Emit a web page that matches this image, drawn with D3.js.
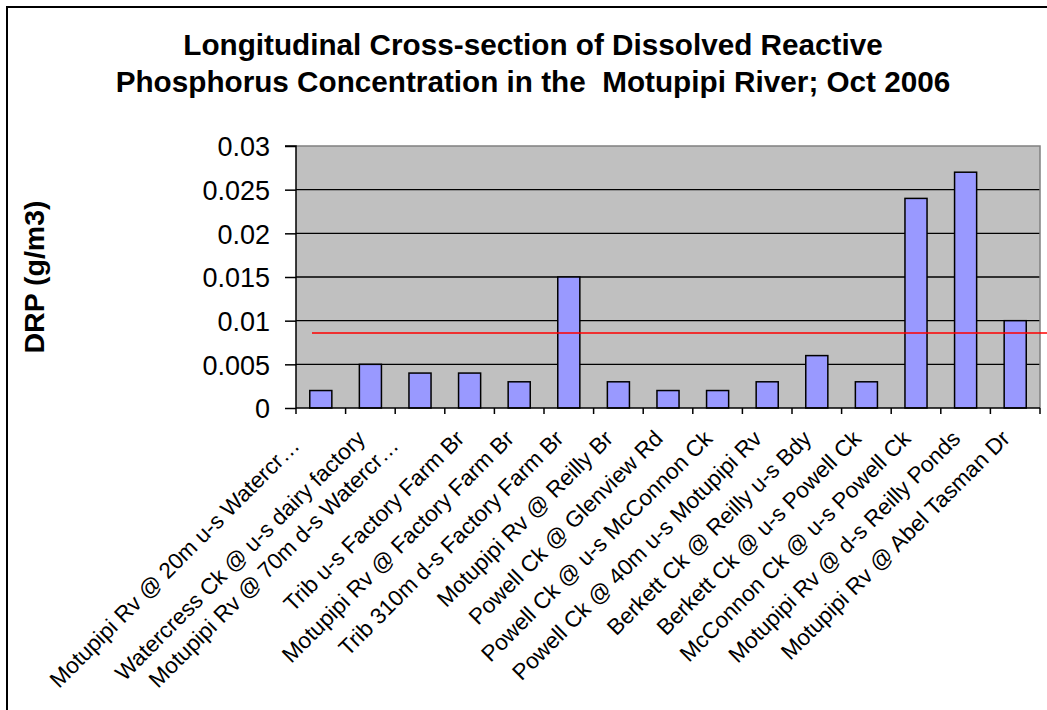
<!DOCTYPE html>
<html>
<head>
<meta charset="utf-8">
<script src="https://cdn.jsdelivr.net/npm/d3@7"></script>
<style>
  html, body { margin: 0; padding: 0; background: #fff; }
  svg { display: block; }
  text { font-family: Arial, "Liberation Sans", sans-serif; fill: #000; }
</style>
</head>
<body>
<svg id="chart" width="1047" height="710"></svg>
<script>
// Sampling sites along the Motupipi River, upstream to downstream
const categories = [
  "Motupipi Rv @ 20m u-s Watercr\u2026",
  "Watercress Ck @ u-s dairy factory",
  "Motupipi Rv @ 70m d-s Watercr\u2026",
  "Trib u-s Factory Farm Br",
  "Motupipi Rv @ Factory Farm Br",
  "Trib 310m d-s Factory Farm Br",
  "Motupipi Rv @ Reilly Br",
  "Powell Ck @ Glenview Rd",
  "Powell Ck @ u-s McConnon Ck",
  "Powell Ck @ 40m u-s Motupipi Rv",
  "Berkett Ck @ Reilly u-s Bdy",
  "Berkett Ck @ u-s Powell Ck",
  "McConnon Ck @ u-s Powell Ck",
  "Motupipi Rv @ d-s Reilly Ponds",
  "Motupipi Rv @ Abel Tasman Dr"
];

// Dissolved reactive phosphorus, g/m3
const drpValues = [0.002, 0.005, 0.004, 0.004, 0.003, 0.015, 0.003, 0.002, 0.002, 0.003, 0.006, 0.003, 0.024, 0.027, 0.010];

// Guideline level drawn as a red reference line
const guidelineValue = 0.0086;

const yTicks = [0, 0.005, 0.01, 0.015, 0.02, 0.025, 0.03];
const yTickLabels = ["0", "0.005", "0.01", "0.015", "0.02", "0.025", "0.03"];

const titleLines = [
  "Longitudinal Cross-section of Dissolved Reactive",
  "Phosphorus Concentration in the  Motupipi River; Oct 2006"
];
const yAxisTitle = "DRP (g/m3)";

// Layout
const W = 1047, H = 710;
const plot = { left: 296, right: 1040, top: 146, bottom: 408 };

const svg = d3.select("#chart");

// Outer chart frame (runs past the right and bottom edges)
svg.append("rect")
  .attr("x", 7).attr("y", 7)
  .attr("width", W + 50).attr("height", H + 50)
  .attr("fill", "#fff")
  .attr("stroke", "#000")
  .attr("stroke-width", 2);

const x = d3.scaleBand()
  .domain(categories)
  .range([plot.left, plot.right])
  .padding(0);

const y = d3.scaleLinear()
  .domain([0, 0.03])
  .range([plot.bottom, plot.top]);

// Plot area background
svg.append("rect")
  .attr("x", plot.left).attr("y", plot.top)
  .attr("width", plot.right - plot.left)
  .attr("height", plot.bottom - plot.top)
  .attr("fill", "#C0C0C0");

// Horizontal gridlines
svg.append("g")
  .selectAll("line")
  .data(yTicks.filter(v => v > 0 && v < 0.03))
  .join("line")
  .attr("x1", plot.left).attr("x2", plot.right)
  .attr("y1", d => y(d)).attr("y2", d => y(d))
  .attr("stroke", "#000")
  .attr("stroke-width", 1.3);

// Plot area border (top and right) in grey
svg.append("path")
  .attr("d", `M${plot.left},${y(0.03)}H${plot.right}V${plot.bottom}`)
  .attr("fill", "none")
  .attr("stroke", "#808080")
  .attr("stroke-width", 1.5);

// Bars
const barFrac = 0.445;
svg.append("g")
  .selectAll("rect")
  .data(categories.map((c, i) => ({ c, v: drpValues[i] })))
  .join("rect")
  .attr("x", d => x(d.c) + x.bandwidth() * (1 - barFrac) / 2)
  .attr("width", x.bandwidth() * barFrac)
  .attr("y", d => y(d.v))
  .attr("height", d => y(0) - y(d.v))
  .attr("fill", "#9999FF")
  .attr("stroke", "#000")
  .attr("stroke-width", 1.5);

// Y axis
const yAxis = d3.axisLeft(y)
  .tickValues(yTicks)
  .tickFormat((d, i) => yTickLabels[i])
  .tickSize(11)
  .tickPadding(15);

const gy = svg.append("g")
  .attr("transform", `translate(${plot.left},0)`)
  .call(yAxis);
gy.select(".domain").attr("stroke", "#000").attr("stroke-width", 1.5)
  .attr("d", `M-11,${y(0.03)}H0V${y(0)}`);
gy.selectAll(".tick line").attr("stroke", "#000").attr("stroke-width", 1.5);
gy.selectAll(".tick text")
  .attr("font-size", 27)
  .attr("font-family", 'Arial, "Liberation Sans", sans-serif')
  .attr("dy", "0.36em")
  .attr("fill", "#000");

// X axis line and tick marks at category boundaries
const gx = svg.append("g");
gx.append("line")
  .attr("x1", plot.left).attr("x2", plot.right)
  .attr("y1", y(0)).attr("y2", y(0))
  .attr("stroke", "#000").attr("stroke-width", 1.5);
const boundaries = categories.map(c => x(c)).concat([x(categories[categories.length - 1]) + x.bandwidth()]);
gx.selectAll("line.tick")
  .data(boundaries)
  .join("line")
  .attr("class", "tick")
  .attr("x1", d => d).attr("x2", d => d)
  .attr("y1", y(0)).attr("y2", y(0) + 6)
  .attr("stroke", "#000").attr("stroke-width", 1.5);

// Rotated category labels; shortened names end in an ellipsis and sit a little lower
gx.selectAll("text")
  .data(categories)
  .join("text")
  .attr("transform", d => {
    const cx = x(d) + x.bandwidth() / 2;
    const truncated = d.endsWith("\u2026");
    const ax = truncated ? cx - 20 : cx - 4;
    const ay = truncated ? 447 : 440;
    return `translate(${ax},${ay}) rotate(-45)`;
  })
  .attr("text-anchor", "end")
  .attr("font-size", 22.5)
  .text(d => d);

// Guideline reference line
svg.append("line")
  .attr("x1", x(categories[0]) + 16)
  .attr("x2", W + 10)
  .attr("y1", y(guidelineValue)).attr("y2", y(guidelineValue))
  .attr("stroke", "#FF0000")
  .attr("stroke-width", 1.5);

// Title
svg.append("g")
  .selectAll("text")
  .data(titleLines)
  .join("text")
  .attr("x", 533)
  .attr("y", (d, i) => 55 + i * 37)
  .attr("text-anchor", "middle")
  .attr("font-size", 29.7)
  .attr("font-weight", "bold")
  .style("white-space", "pre")
  .attr("xml:space", "preserve")
  .text(d => d);

// Y axis title
svg.append("text")
  .attr("transform", "translate(44,277) rotate(-90)")
  .attr("text-anchor", "middle")
  .attr("font-size", 28.5)
  .attr("font-weight", "bold")
  .text(yAxisTitle);
</script>
</body>
</html>
